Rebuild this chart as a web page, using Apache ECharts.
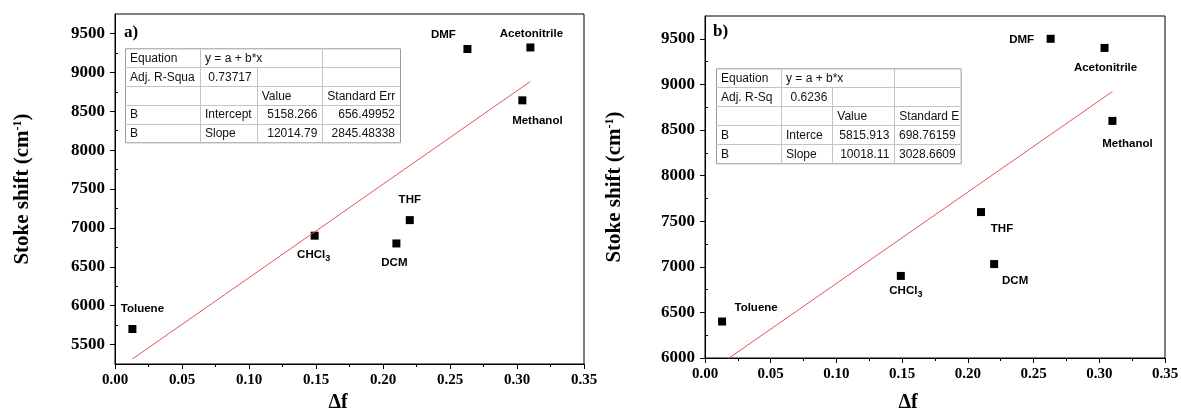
<!DOCTYPE html>
<html>
<head>
<meta charset="utf-8">
<script src="https://cdn.jsdelivr.net/npm/echarts@6/dist/echarts.min.js"></script>
<style>
html,body{margin:0;padding:0;background:#fff;}
#main{width:1181px;height:408px;}
</style>
</head>
<body>
<div id="main"></div>
<script>
// solvent names, same order in both panels
var solvents = ['Toluene', 'CHCl3', 'DCM', 'THF', 'DMF', 'Acetonitrile', 'Methanol'];

// panel a)
var deltaFA = [0.013, 0.149, 0.210, 0.220, 0.263, 0.310, 0.304];
var shiftA = [5700, 6900, 6800, 7100, 9300, 9320, 8640];
var fitA = [5158.266, 12014.79]; // intercept, slope
var yTicksA = [5500, 6000, 6500, 7000, 7500, 8000, 8500, 9000, 9500];
var yMinorA = [5750, 6250, 6750, 7250, 7750, 8250, 8750, 9250];

// panel b)
var deltaFB = [0.013, 0.149, 0.220, 0.210, 0.263, 0.304, 0.310];
var shiftB = [6400, 6900, 7030, 7600, 9500, 9400, 8600];
var fitB = [5815.913, 10018.11];
var yTicksB = [6000, 6500, 7000, 7500, 8000, 8500, 9000, 9500];
var yMinorB = [6250, 6750, 7250, 7750, 8250, 8750, 9250];

var xTicks = [0, 0.05, 0.10, 0.15, 0.20, 0.25, 0.30, 0.35];

// fit tables
var tableA = [
    ['Equation', 'y = a + b*x', '', ''],
    ['Adj. R-Squa', '0.73717', '', ''],
    ['', '', 'Value', 'Standard Err'],
    ['B', 'Intercept', '5158.266', '656.49952'],
    ['B', 'Slope', '12014.79', '2845.48338']
];
var tableB = [
    ['Equation', 'y = a + b*x', '', ''],
    ['Adj. R-Sq', '0.6236', '', ''],
    ['', '', 'Value', 'Standard E'],
    ['B', 'Interce', '5815.913', '698.76159'],
    ['B', 'Slope', '10018.11', '3028.6609']
];

// label placement (pixel offset of label centre from the point)
var labelOffA = [[10, -20], [-1, 19], [-2, 19], [0, -20], [-24, -14], [1, -14], [15, 20]];
var labelOffB = [[34, -14], [5, 15], [21, 17], [21, 17], [-29, 1], [1, 20], [15, 23]];

var serif = '"Liberation Serif", "Times New Roman", serif';
var sans = '"Liberation Sans", Arial, sans-serif';

function buildPoints(xs, ys, offs) {
    var out = [];
    for (var i = 0; i < xs.length; i++) {
        out.push({
            name: solvents[i],
            value: [xs[i], ys[i]],
            label: {offset: offs[i]}
        });
    }
    return out;
}

function fitLine(xs, fit) {
    var lo = Math.min.apply(null, xs), hi = Math.max.apply(null, xs);
    return [[lo, fit[0] + fit[1] * lo], [hi, fit[0] + fit[1] * hi]];
}

function pointLabel(p) {
    if (p.name == 'CHCl3') return 'CHCl{sub|3}';
    return p.name;
}

function makeXAxis(grid, gap, shift) {
    return {
        gridIndex: grid,
        type: 'value',
        min: 0, max: 0.35, interval: 0.05,
        axisLine: {show: true, onZero: false, lineStyle: {color: '#000', width: 1}},
        axisTick: {show: true, inside: false, length: 5, customValues: xTicks, lineStyle: {color: '#000'}},
        minorTick: {show: true, splitNumber: 2, length: 3, lineStyle: {color: '#000'}},
        splitLine: {show: false},
        minorSplitLine: {show: false},
        axisLabel: {
            customValues: xTicks,
            margin: 9,
            color: '#000',
            fontFamily: serif, fontWeight: 'bold', fontSize: 15,
            formatter: function (v) { return v.toFixed(2); }
        },
        name: 'Δf',
        nameLocation: 'middle',
        nameGap: gap,
        nameTextStyle: {color: '#000', fontFamily: serif, fontWeight: 'bold', fontSize: 20, padding: [0, shift, 0, 0]}
    };
}

function makeYAxis(grid, lo, ticks, gap) {
    return {
        gridIndex: grid,
        type: 'value',
        min: lo, max: 9750, interval: 250,
        axisLine: {show: true, onZero: false, lineStyle: {color: '#000', width: 1}},
        axisTick: {show: true, inside: false, length: 5, customValues: ticks, lineStyle: {color: '#000'}},
        splitLine: {show: false},
        axisLabel: {
            customValues: ticks,
            margin: 10,
            color: '#000',
            fontFamily: serif, fontWeight: 'bold', fontSize: 17,
            formatter: function (v) { return String(v); }
        },
        name: 'Stoke shift (cm{sup|-1})',
        nameLocation: 'middle',
        nameRotate: 90,
        nameGap: gap,
        nameTextStyle: {
            color: '#000', fontFamily: serif, fontWeight: 'bold', fontSize: 21,
            rich: {
                sup: {color: '#000', fontFamily: serif, fontWeight: 'bold', fontSize: 12, verticalAlign: 'top'}
            }
        }
    };
}

function makeMinorY(grid, lo, ticks) {
    return {
        gridIndex: grid,
        type: 'value',
        min: lo, max: 9750, interval: 250,
        axisLine: {show: false},
        axisTick: {show: true, inside: false, length: 3, customValues: ticks, lineStyle: {color: '#000'}},
        axisLabel: {show: false},
        splitLine: {show: false}
    };
}

function makeTable(rows, cols, top, rowH) {
    var els = [];
    var left = cols[0], right = cols[cols.length - 1];
    var bottom = top + rowH * rows.length;
    els.push({type: 'rect', shape: {x: left + 0.5, y: top + 0.5, width: right - left, height: bottom - top},
        style: {fill: '#fff', stroke: '#9a9a9a', lineWidth: 1}});
    for (var r = 1; r < rows.length; r++) {
        var yy = Math.round(top + rowH * r) + 0.5;
        els.push({type: 'line', shape: {x1: left, y1: yy, x2: right, y2: yy}, style: {stroke: '#c4c4c4', lineWidth: 1}});
    }
    for (var c = 1; c < cols.length - 1; c++) {
        var xx = Math.round(cols[c]) + 0.5;
        var y0 = (c == 2) ? top + rowH : top;
        els.push({type: 'line', shape: {x1: xx, y1: y0, x2: xx, y2: bottom}, style: {stroke: '#c4c4c4', lineWidth: 1}});
    }
    for (r = 0; r < rows.length; r++) {
        for (c = 0; c < rows[r].length; c++) {
            var t = rows[r][c];
            if (!t) continue;
            var isNum = !isNaN(parseFloat(t)) && /^[0-9.]+$/.test(t);
            var cx = isNum ? cols[c + 1] - 5 : cols[c] + 5;
            els.push({
                type: 'text',
                x: cx, y: top + rowH * (r + 0.5) + 1,
                style: {
                    text: t, fill: '#111', font: '12px ' + sans,
                    align: isNum ? 'right' : 'left', verticalAlign: 'middle',
                    textAlign: isNum ? 'right' : 'left', textVerticalAlign: 'middle'
                }
            });
        }
    }
    return {type: 'group', children: els};
}

var labelStyle = {
    show: true,
    position: 'inside',
    formatter: pointLabel,
    color: '#000',
    fontFamily: sans, fontWeight: 'bold', fontSize: 11.5,
    rich: {
        sub: {color: '#000', fontFamily: sans, fontWeight: 'bold', fontSize: 9, verticalAlign: 'bottom', padding: [8, 0, 0, 0]}
    }
};

var myChart = echarts.init(document.getElementById('main'), null, {renderer: 'canvas'});
var option = {
    animation: false,
    backgroundColor: '#fff',
    grid: [
        {left: 115, top: 14, width: 469, height: 350, show: true, borderColor: '#000', borderWidth: 1,
            backgroundColor: 'transparent', containLabel: false, outerBoundsMode: 'none'},
        {left: 705, top: 16, width: 460, height: 342, show: true, borderColor: '#000', borderWidth: 1,
            backgroundColor: 'transparent', containLabel: false, outerBoundsMode: 'none'}
    ],
    xAxis: [
        makeXAxis(0, 28, 23),
        makeXAxis(1, 35, 54)
    ],
    yAxis: [
        makeYAxis(0, 5250, yTicksA, 82),
        makeMinorY(0, 5250, yMinorA),
        makeYAxis(1, 6000, yTicksB, 80),
        makeMinorY(1, 6000, yMinorB)
    ],
    series: [
        {
            type: 'line', xAxisIndex: 0, yAxisIndex: 0,
            data: fitLine(deltaFA, fitA),
            showSymbol: false, symbol: 'none', clip: true,
            lineStyle: {color: '#e05555', width: 1}
        },
        {
            type: 'scatter', xAxisIndex: 0, yAxisIndex: 0,
            symbol: 'rect', symbolSize: 8,
            itemStyle: {color: '#000', opacity: 1},
            label: labelStyle,
            data: buildPoints(deltaFA, shiftA, labelOffA)
        },
        {
            type: 'line', xAxisIndex: 1, yAxisIndex: 2,
            data: fitLine(deltaFB, fitB),
            showSymbol: false, symbol: 'none', clip: true,
            lineStyle: {color: '#e05555', width: 1}
        },
        {
            type: 'scatter', xAxisIndex: 1, yAxisIndex: 2,
            symbol: 'rect', symbolSize: 8,
            itemStyle: {color: '#000', opacity: 1},
            label: labelStyle,
            data: buildPoints(deltaFB, shiftB, labelOffB)
        }
    ],
    graphic: [
        {type: 'text', x: 124, y: 24, style: {text: 'a)', fill: '#000', font: 'bold 17px ' + serif}},
        {type: 'text', x: 713, y: 23, style: {text: 'b)', fill: '#000', font: 'bold 17px ' + serif}},
        makeTable(tableA, [125, 200, 256.7, 322.3, 400], 48.3, 18.8),
        makeTable(tableB, [716, 781, 832.3, 894.3, 960.7], 68.3, 19)
    ]
};

if (option && typeof option === "object") {
    myChart.setOption(option, true);
}
</script>
</body>
</html>
